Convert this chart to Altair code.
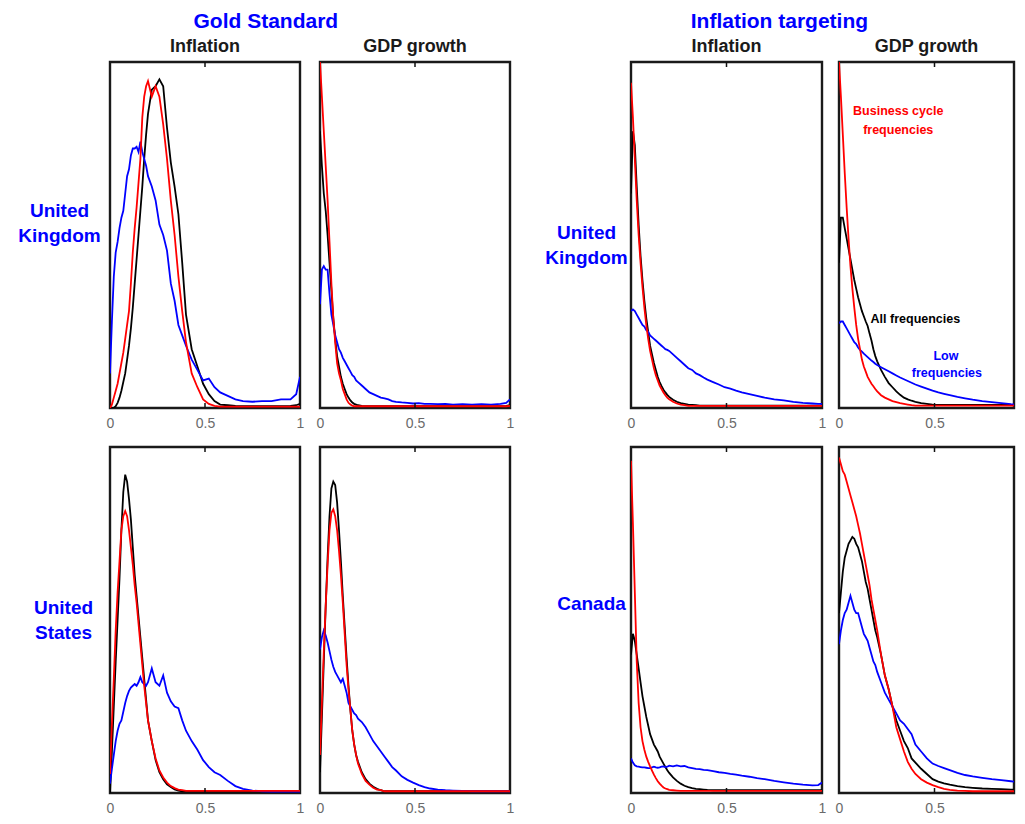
import altair as alt
import pandas as pd

FONT = "Liberation Sans"
BLUE = "#0000ff"
RED = "#ff0000"
BLACK = "#000000"

# common frequency grid (x axis, 0..1)
X = [0.00, 0.01, 0.02, 0.03, 0.04, 0.05, 0.06, 0.07, 0.08, 0.09,
     0.10, 0.11, 0.12, 0.13, 0.14, 0.15, 0.16, 0.17, 0.18, 0.19,
     0.20, 0.22, 0.24, 0.26, 0.28, 0.30, 0.32, 0.34, 0.36, 0.38,
     0.40, 0.43, 0.46, 0.49, 0.52, 0.55, 0.58, 0.62, 0.66, 0.70,
     0.75, 0.80, 0.85, 0.90, 0.95, 0.98, 1.00]

# ---- Gold Standard, United Kingdom, Inflation ----
GS_UK_INF_ALL = [0.0, 0.0, 0.0, 0.005, 0.015, 0.03, 0.05, 0.075, 0.10, 0.14,
                 0.18, 0.23, 0.29, 0.36, 0.43, 0.50, 0.57, 0.64, 0.72, 0.79,
                 0.85, 0.92, 0.93, 0.95, 0.93, 0.81, 0.71, 0.64, 0.56, 0.42,
                 0.27, 0.17, 0.12, 0.07, 0.04, 0.02, 0.01, 0.008, 0.006, 0.005,
                 0.005, 0.005, 0.005, 0.005, 0.006, 0.008, 0.012]
GS_UK_INF_BC = [0.0, 0.01, 0.03, 0.05, 0.07, 0.10, 0.13, 0.16, 0.20, 0.24,
                0.28, 0.36, 0.45, 0.52, 0.58, 0.65, 0.72, 0.84, 0.90, 0.93,
                0.945, 0.90, 0.93, 0.90, 0.82, 0.72, 0.60, 0.50, 0.38, 0.28,
                0.19, 0.10, 0.06, 0.025, 0.012, 0.006, 0.004, 0.004, 0.004, 0.004,
                0.004, 0.004, 0.004, 0.004, 0.004, 0.004, 0.004]
GS_UK_INF_LOW = [0.10, 0.25, 0.38, 0.45, 0.48, 0.52, 0.55, 0.57, 0.62, 0.67,
                 0.69, 0.73, 0.75, 0.75, 0.755, 0.74, 0.77, 0.74, 0.72, 0.70,
                 0.67, 0.64, 0.60, 0.53, 0.50, 0.455, 0.36, 0.31, 0.24, 0.21,
                 0.18, 0.14, 0.11, 0.08, 0.085, 0.06, 0.045, 0.035, 0.025, 0.02,
                 0.018, 0.02, 0.02, 0.025, 0.025, 0.04, 0.09]

# ---- Gold Standard, United Kingdom, GDP growth ----
GS_UK_GDP_ALL = [0.80, 0.70, 0.62, 0.57, 0.50, 0.42, 0.34, 0.26, 0.20, 0.15,
                 0.12, 0.09, 0.07, 0.055, 0.04, 0.03, 0.022, 0.016, 0.012, 0.01,
                 0.008, 0.006, 0.005, 0.005, 0.005, 0.005, 0.005, 0.005, 0.005, 0.005,
                 0.005, 0.005, 0.005, 0.005, 0.005, 0.005, 0.005, 0.005, 0.005, 0.005,
                 0.005, 0.005, 0.005, 0.005, 0.005, 0.006, 0.008]
GS_UK_GDP_BC = [1.0, 0.90, 0.80, 0.70, 0.60, 0.48, 0.36, 0.26, 0.19, 0.13,
                0.10, 0.08, 0.055, 0.04, 0.025, 0.015, 0.01, 0.007, 0.005, 0.005,
                0.005, 0.005, 0.005, 0.005, 0.005, 0.005, 0.005, 0.005, 0.005, 0.005,
                0.005, 0.005, 0.005, 0.005, 0.005, 0.005, 0.005, 0.005, 0.005, 0.005,
                0.005, 0.005, 0.005, 0.005, 0.005, 0.005, 0.006]
GS_UK_GDP_LOW = [0.30, 0.40, 0.41, 0.40, 0.40, 0.33, 0.27, 0.24, 0.21, 0.19,
                 0.17, 0.16, 0.145, 0.135, 0.125, 0.115, 0.105, 0.095, 0.09, 0.08,
                 0.075, 0.065, 0.055, 0.045, 0.04, 0.035, 0.03, 0.028, 0.025, 0.02,
                 0.018, 0.016, 0.015, 0.013, 0.014, 0.012, 0.012, 0.011, 0.012, 0.01,
                 0.011, 0.01, 0.011, 0.01, 0.012, 0.015, 0.025]

# ---- Gold Standard, United States, Inflation ----
GS_US_INF_ALL = [0.0, 0.12, 0.25, 0.38, 0.50, 0.62, 0.76, 0.87, 0.92, 0.90,
                 0.85, 0.79, 0.71, 0.63, 0.57, 0.51, 0.45, 0.39, 0.33, 0.27,
                 0.21, 0.15, 0.095, 0.06, 0.04, 0.025, 0.017, 0.01, 0.007, 0.005,
                 0.005, 0.005, 0.005, 0.005, 0.005, 0.005, 0.005, 0.005, 0.005, 0.005,
                 0.005, 0.005, 0.005, 0.005, 0.005, 0.005, 0.005]
GS_US_INF_BC = [0.055, 0.20, 0.33, 0.47, 0.58, 0.67, 0.76, 0.80, 0.815, 0.80,
                0.76, 0.71, 0.66, 0.60, 0.55, 0.49, 0.43, 0.37, 0.31, 0.26,
                0.21, 0.15, 0.10, 0.065, 0.045, 0.03, 0.02, 0.014, 0.01, 0.008,
                0.006, 0.006, 0.006, 0.006, 0.006, 0.006, 0.006, 0.006, 0.006, 0.006,
                0.006, 0.006, 0.006, 0.006, 0.006, 0.006, 0.006]
GS_US_INF_LOW = [0.027, 0.07, 0.11, 0.15, 0.18, 0.20, 0.21, 0.235, 0.26, 0.28,
                 0.295, 0.305, 0.31, 0.315, 0.31, 0.32, 0.335, 0.32, 0.315, 0.31,
                 0.32, 0.36, 0.32, 0.31, 0.34, 0.29, 0.265, 0.25, 0.245, 0.21,
                 0.18, 0.15, 0.125, 0.095, 0.075, 0.06, 0.052, 0.035, 0.02, 0.012,
                 0.007, 0.005, 0.004, 0.004, 0.004, 0.004, 0.004]

# ---- Gold Standard, United States, GDP growth ----
GS_US_GDP_ALL = [0.06, 0.22, 0.38, 0.54, 0.68, 0.80, 0.88, 0.90, 0.89, 0.84,
                 0.76, 0.67, 0.57, 0.48, 0.39, 0.31, 0.24, 0.18, 0.14, 0.11,
                 0.09, 0.06, 0.04, 0.027, 0.018, 0.012, 0.008, 0.005, 0.005, 0.005,
                 0.005, 0.005, 0.005, 0.005, 0.005, 0.005, 0.005, 0.005, 0.005, 0.005,
                 0.005, 0.005, 0.005, 0.005, 0.005, 0.005, 0.005]
GS_US_GDP_BC = [0.11, 0.26, 0.41, 0.54, 0.66, 0.76, 0.81, 0.82, 0.80, 0.76,
                0.70, 0.63, 0.55, 0.46, 0.37, 0.30, 0.24, 0.18, 0.14, 0.11,
                0.085, 0.055, 0.035, 0.024, 0.015, 0.01, 0.008, 0.005, 0.005, 0.005,
                0.005, 0.005, 0.005, 0.005, 0.005, 0.005, 0.005, 0.005, 0.005, 0.005,
                0.005, 0.005, 0.005, 0.005, 0.005, 0.005, 0.005]
GS_US_GDP_LOW = [0.415, 0.45, 0.47, 0.455, 0.435, 0.41, 0.385, 0.365, 0.35, 0.34,
                 0.33, 0.32, 0.33, 0.31, 0.29, 0.26, 0.25, 0.24, 0.23, 0.225,
                 0.215, 0.205, 0.19, 0.17, 0.15, 0.135, 0.12, 0.105, 0.09, 0.075,
                 0.065, 0.048, 0.038, 0.03, 0.023, 0.017, 0.013, 0.01, 0.008, 0.007,
                 0.006, 0.005, 0.005, 0.005, 0.005, 0.005, 0.005]

# ---- Inflation targeting, United Kingdom, Inflation ----
IT_UK_INF_ALL = [0.62, 0.80, 0.76, 0.64, 0.53, 0.44, 0.37, 0.31, 0.26, 0.22,
                 0.18, 0.155, 0.13, 0.11, 0.09, 0.075, 0.063, 0.053, 0.045, 0.038,
                 0.032, 0.024, 0.018, 0.014, 0.012, 0.01, 0.009, 0.008, 0.007, 0.007,
                 0.007, 0.007, 0.007, 0.007, 0.007, 0.007, 0.007, 0.007, 0.007, 0.007,
                 0.007, 0.007, 0.007, 0.007, 0.007, 0.007, 0.007]
IT_UK_INF_BC = [0.94, 0.84, 0.72, 0.60, 0.50, 0.42, 0.35, 0.29, 0.24, 0.20,
                0.165, 0.14, 0.115, 0.095, 0.08, 0.065, 0.055, 0.045, 0.037, 0.03,
                0.025, 0.018, 0.013, 0.01, 0.008, 0.006, 0.006, 0.006, 0.006, 0.006,
                0.006, 0.006, 0.006, 0.006, 0.006, 0.006, 0.006, 0.006, 0.006, 0.006,
                0.006, 0.006, 0.006, 0.006, 0.006, 0.006, 0.006]
IT_UK_INF_LOW = [0.28, 0.285, 0.28, 0.27, 0.26, 0.25, 0.24, 0.235, 0.225, 0.22,
                 0.21, 0.205, 0.20, 0.195, 0.19, 0.185, 0.18, 0.175, 0.17, 0.168,
                 0.165, 0.155, 0.145, 0.135, 0.125, 0.115, 0.11, 0.10, 0.095, 0.088,
                 0.082, 0.075, 0.068, 0.06, 0.056, 0.05, 0.045, 0.04, 0.035, 0.03,
                 0.025, 0.022, 0.018, 0.015, 0.013, 0.012, 0.012]

# ---- Inflation targeting, United Kingdom, GDP growth ----
IT_UK_GDP_ALL = [0.42, 0.55, 0.55, 0.52, 0.49, 0.46, 0.43, 0.40, 0.37, 0.345,
                 0.32, 0.30, 0.28, 0.265, 0.25, 0.237, 0.215, 0.195, 0.17, 0.15,
                 0.135, 0.11, 0.09, 0.072, 0.06, 0.048, 0.038, 0.03, 0.025, 0.021,
                 0.018, 0.014, 0.012, 0.01, 0.009, 0.009, 0.009, 0.009, 0.009, 0.009,
                 0.009, 0.009, 0.009, 0.009, 0.009, 0.009, 0.009]
IT_UK_GDP_BC = [1.0, 0.90, 0.79, 0.68, 0.58, 0.49, 0.41, 0.345, 0.29, 0.24,
                0.20, 0.17, 0.14, 0.12, 0.105, 0.09, 0.08, 0.07, 0.063, 0.055,
                0.048, 0.037, 0.03, 0.025, 0.02, 0.017, 0.014, 0.012, 0.01, 0.008,
                0.007, 0.007, 0.007, 0.007, 0.007, 0.007, 0.007, 0.007, 0.007, 0.007,
                0.007, 0.007, 0.007, 0.007, 0.007, 0.007, 0.007]
IT_UK_GDP_LOW = [0.245, 0.25, 0.25, 0.24, 0.23, 0.22, 0.21, 0.20, 0.19, 0.185,
                 0.175, 0.168, 0.163, 0.157, 0.152, 0.147, 0.142, 0.137, 0.133, 0.128,
                 0.124, 0.118, 0.112, 0.106, 0.10, 0.094, 0.088, 0.083, 0.078, 0.073,
                 0.068, 0.062, 0.056, 0.05, 0.045, 0.041, 0.037, 0.032, 0.028, 0.024,
                 0.02, 0.017, 0.014, 0.011, 0.01, 0.01, 0.01]

# ---- Inflation targeting, Canada, Inflation ----
IT_CA_INF_ALL = [0.40, 0.46, 0.44, 0.40, 0.36, 0.32, 0.28, 0.25, 0.22, 0.195,
                 0.17, 0.155, 0.14, 0.13, 0.12, 0.105, 0.095, 0.085, 0.075, 0.066,
                 0.058, 0.045, 0.035, 0.027, 0.021, 0.017, 0.014, 0.012, 0.011, 0.01,
                 0.009, 0.008, 0.008, 0.008, 0.008, 0.008, 0.008, 0.008, 0.008, 0.008,
                 0.008, 0.008, 0.008, 0.008, 0.008, 0.008, 0.008]
IT_CA_INF_BC = [0.96, 0.78, 0.58, 0.38, 0.26, 0.19, 0.15, 0.125, 0.105, 0.09,
                0.077, 0.065, 0.053, 0.043, 0.034, 0.027, 0.021, 0.016, 0.013, 0.011,
                0.009, 0.008, 0.007, 0.006, 0.006, 0.006, 0.006, 0.006, 0.006, 0.006,
                0.006, 0.006, 0.006, 0.006, 0.006, 0.006, 0.006, 0.006, 0.006, 0.006,
                0.006, 0.006, 0.006, 0.006, 0.006, 0.006, 0.006]
IT_CA_INF_LOW = [0.10, 0.088, 0.08, 0.077, 0.076, 0.075, 0.074, 0.074, 0.073, 0.072,
                 0.072, 0.074, 0.076, 0.074, 0.073, 0.074, 0.076, 0.077, 0.075, 0.076,
                 0.079, 0.077, 0.08, 0.077, 0.078, 0.074, 0.072, 0.07, 0.069, 0.067,
                 0.066, 0.063, 0.06, 0.058, 0.055, 0.053, 0.05, 0.047, 0.043, 0.04,
                 0.035, 0.031, 0.027, 0.024, 0.022, 0.023, 0.03]

# ---- Inflation targeting, Canada, GDP growth ----
IT_CA_GDP_ALL = [0.52, 0.58, 0.64, 0.68, 0.70, 0.72, 0.73, 0.74, 0.735, 0.72,
                 0.71, 0.69, 0.67, 0.64, 0.61, 0.59, 0.56, 0.53, 0.50, 0.47,
                 0.45, 0.40, 0.34, 0.30, 0.25, 0.21, 0.18, 0.15, 0.13, 0.10,
                 0.088, 0.07, 0.055, 0.04, 0.033, 0.028, 0.024, 0.02, 0.017, 0.015,
                 0.013, 0.012, 0.011, 0.01, 0.01, 0.01, 0.01]
IT_CA_GDP_BC = [0.97, 0.95, 0.93, 0.92, 0.90, 0.88, 0.86, 0.84, 0.82, 0.80,
                0.775, 0.75, 0.72, 0.69, 0.66, 0.63, 0.60, 0.56, 0.53, 0.50,
                0.47, 0.40, 0.34, 0.30, 0.25, 0.19, 0.155, 0.12, 0.09, 0.07,
                0.055, 0.04, 0.03, 0.023, 0.017, 0.012, 0.009, 0.007, 0.006, 0.005,
                0.005, 0.005, 0.005, 0.005, 0.005, 0.005, 0.005]
IT_CA_GDP_LOW = [0.43, 0.47, 0.50, 0.52, 0.53, 0.55, 0.57, 0.55, 0.53, 0.52,
                 0.52, 0.50, 0.48, 0.46, 0.45, 0.44, 0.42, 0.40, 0.38, 0.37,
                 0.35, 0.32, 0.29, 0.27, 0.25, 0.23, 0.21, 0.20, 0.185, 0.17,
                 0.14, 0.12, 0.10, 0.085, 0.078, 0.072, 0.066, 0.058, 0.052, 0.048,
                 0.044, 0.04, 0.037, 0.034, 0.031, 0.035, 0.043]

# annotation labels (IT, UK, GDP growth panel), in data coordinates
NOTE_TEXT = ["Business cycle", "frequencies", "All frequencies", "Low", "frequencies"]
NOTE_X = [0.31, 0.31, 0.40, 0.56, 0.565]
NOTE_Y = [0.857, 0.803, 0.257, 0.151, 0.10]
NOTE_COLOR = [RED, RED, BLACK, BLUE, BLUE]

for arr in [GS_UK_INF_ALL, GS_UK_INF_BC, GS_UK_INF_LOW, GS_UK_GDP_ALL, GS_UK_GDP_BC, GS_UK_GDP_LOW,
            GS_US_INF_ALL, GS_US_INF_BC, GS_US_INF_LOW, GS_US_GDP_ALL, GS_US_GDP_BC, GS_US_GDP_LOW,
            IT_UK_INF_ALL, IT_UK_INF_BC, IT_UK_INF_LOW, IT_UK_GDP_ALL, IT_UK_GDP_BC, IT_UK_GDP_LOW,
            IT_CA_INF_ALL, IT_CA_INF_BC, IT_CA_INF_LOW, IT_CA_GDP_ALL, IT_CA_GDP_BC, IT_CA_GDP_LOW]:
    assert len(arr) == len(X), len(arr)

H = 346


def panel(all_, bc, low, width, xmax=1.0, ticks=(0, 0.5, 1), title=None,
          row_label=None, row_x=0, row_y=0, notes=False):
    xenc = alt.X("x:Q",
                 scale=alt.Scale(domain=[0, xmax], nice=False, zero=False),
                 axis=alt.Axis(values=list(ticks), format="~g", title=None, grid=False,
                               ticks=False, domain=False, labelFontSize=14,
                               labelColor="#6a6a6a", labelPadding=8, labelFont=FONT,
                               labelFlush=False))
    if row_label:
        yaxis = alt.Axis(title=row_label, labels=False, ticks=False, domain=False,
                         grid=False, titleAngle=0, titleAlign="center",
                         titleBaseline="middle", titleX=row_x, titleY=row_y,
                         titleFontSize=19, titleFontWeight="bold", titleColor=BLUE,
                         titleFont=FONT, titleLineHeight=25)
    else:
        yaxis = None
    yenc = alt.Y("y:Q", scale=alt.Scale(domain=[0, 1], nice=False, zero=False), axis=yaxis)

    layers = []
    for vals, col in [(all_, BLACK), (low, BLUE), (bc, RED)]:
        d = pd.DataFrame({"x": X, "y": vals})
        layers.append(alt.Chart(d).mark_line(color=col, strokeWidth=1.8, clip=True)
                      .encode(x=xenc, y=yenc))
    tick = pd.DataFrame({"x": [0.5]})
    layers.append(alt.Chart(tick).mark_rule(color="#111111", strokeWidth=1.5)
                  .encode(x=xenc, y=alt.value(0), y2=alt.value(5)))
    layers.append(alt.Chart(tick).mark_rule(color="#111111", strokeWidth=1.5)
                  .encode(x=xenc, y=alt.value(H - 5), y2=alt.value(H)))
    if notes:
        nd = pd.DataFrame({"x": NOTE_X, "y": NOTE_Y, "t": NOTE_TEXT, "c": NOTE_COLOR})
        layers.append(alt.Chart(nd).mark_text(font=FONT, fontSize=12.5, fontWeight="bold")
                      .encode(x=xenc, y=yenc, text="t:N",
                              color=alt.Color("c:N", scale=None)))
    ch = alt.layer(*layers).properties(width=width, height=H)
    if title:
        ch = ch.properties(title=alt.TitleParams(title, fontSize=18, fontWeight="bold",
                                                 font=FONT, color="#1a1a1a", offset=5,
                                                 anchor="middle"))
    return ch


p1 = panel(GS_UK_INF_ALL, GS_UK_INF_BC, GS_UK_INF_LOW, 190, title="Inflation",
           row_label=["United", "Kingdom"], row_x=-51, row_y=148)
p2 = panel(GS_UK_GDP_ALL, GS_UK_GDP_BC, GS_UK_GDP_LOW, 190, title="GDP growth")
p5 = panel(GS_US_INF_ALL, GS_US_INF_BC, GS_US_INF_LOW, 190,
           row_label=["United", "States"], row_x=-47, row_y=160)
p6 = panel(GS_US_GDP_ALL, GS_US_GDP_BC, GS_US_GDP_LOW, 190)

XMAX4 = 175 / 191
p3 = panel(IT_UK_INF_ALL, IT_UK_INF_BC, IT_UK_INF_LOW, 191, title="Inflation",
           row_label=["United", "Kingdom"], row_x=-45, row_y=170)
p4 = panel(IT_UK_GDP_ALL, IT_UK_GDP_BC, IT_UK_GDP_LOW, 175, xmax=XMAX4, ticks=(0, 0.5),
           title="GDP growth", notes=True)
p7 = panel(IT_CA_INF_ALL, IT_CA_INF_BC, IT_CA_INF_LOW, 191,
           row_label="Canada", row_x=-40, row_y=156)
p8 = panel(IT_CA_GDP_ALL, IT_CA_GDP_BC, IT_CA_GDP_LOW, 175, xmax=XMAX4, ticks=(0, 0.5))


def group_title(text):
    return alt.TitleParams(text, fontSize=21, fontWeight="bold", font=FONT, color=BLUE,
                           anchor="middle", offset=5)


gs = alt.vconcat(alt.hconcat(p1, p2, spacing=8),
                 alt.hconcat(p5, p6, spacing=8),
                 spacing=13, title=group_title("Gold Standard"))
it = alt.vconcat(alt.hconcat(p3, p4, spacing=5),
                 alt.hconcat(p7, p8, spacing=5),
                 spacing=13, title=group_title("Inflation targeting"))

chart = (alt.hconcat(gs, it, spacing=27)
         .properties(padding={"left": 8, "top": 3, "right": 0, "bottom": 0})
         .configure_view(stroke="#1a1a1a", strokeWidth=2.4))

chart.save("out.html", embed_options={"renderer": "svg", "actions": False})
